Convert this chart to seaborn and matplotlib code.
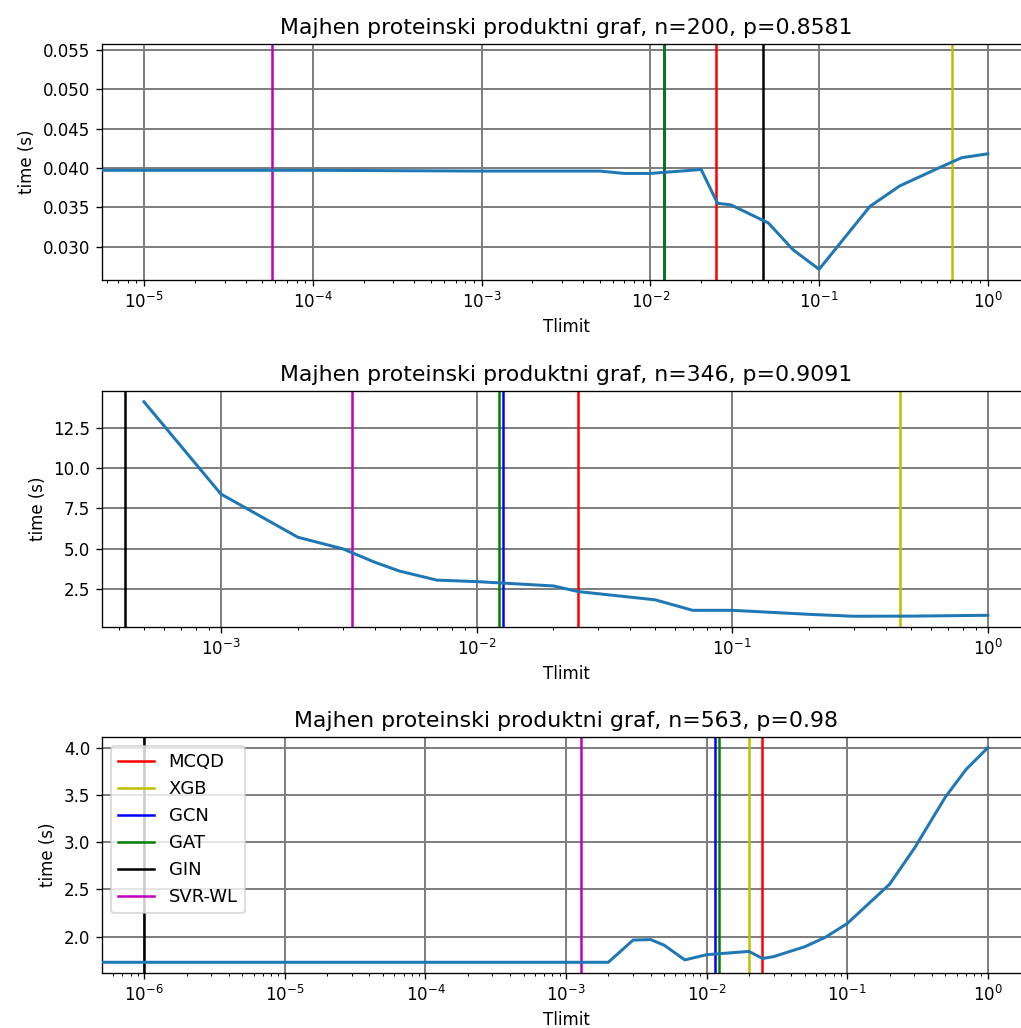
import numpy as np
import pandas as pd
import matplotlib
matplotlib.use("Agg")
import matplotlib.pyplot as plt
import matplotlib.ticker as mticker
import seaborn as sns

# ---------------- data ----------------
titles = [
    "Majhen proteinski produktni graf, n=200, p=0.8581",
    "Majhen proteinski produktni graf, n=346, p=0.9091",
    "Majhen proteinski produktni graf, n=563, p=0.98",
]

# panel 1
t1_x = [1e-6, 1e-5, 1e-4, 1e-3, 2e-3, 3e-3, 5e-3, 7e-3, 1e-2, 2e-2, 2.5e-2, 3e-2,
        5e-2, 7e-2, 0.1, 0.2, 0.3, 0.5, 0.7, 1.0]
t1_y = [0.0397, 0.0397, 0.0397, 0.0396, 0.0396, 0.0396, 0.0396, 0.0393, 0.0393, 0.0398,
        0.0355, 0.0353, 0.0330, 0.0296, 0.0271, 0.0351, 0.0377, 0.0399, 0.0413, 0.0418]

# panel 2
t2_x = [5e-4, 1e-3, 2e-3, 3e-3, 4e-3, 5e-3, 7e-3, 1e-2, 2e-2, 2.5e-2, 5e-2, 7e-2,
        0.1, 0.2, 0.3, 0.5, 1.0]
t2_y = [14.1, 8.38, 5.7, 4.98, 4.15, 3.6, 3.04, 2.95, 2.68, 2.33, 1.82, 1.17,
        1.17, 0.92, 0.80, 0.81, 0.86]

# panel 3
t3_x = [1e-7, 1e-6, 1e-5, 1e-4, 1e-3, 2e-3, 3e-3, 4e-3, 5e-3, 7e-3, 1e-2, 2e-2,
        2.5e-2, 3e-2, 5e-2, 7e-2, 0.1, 0.2, 0.3, 0.5, 0.7, 1.0]
t3_y = [1.73, 1.73, 1.73, 1.73, 1.73, 1.73, 1.965, 1.97, 1.91, 1.755, 1.81, 1.845,
        1.77, 1.79, 1.895, 1.995, 2.14, 2.555, 2.935, 3.48, 3.77, 4.0]

methods = ["MCQD", "XGB", "GCN", "GAT", "GIN", "SVR-WL"]
method_colors = ["r", "y", "b", "g", "k", "m"]
pred1 = [0.0246, 0.612, 0.0121, 0.0121, 0.0467, 5.7e-5]
pred2 = [0.025, 0.455, 0.0127, 0.0122, 4.2e-4, 3.25e-3]
pred3 = [0.0248, 0.0201, 0.01145, 0.01225, 1e-6, 1.27e-3]

xlims = [(10 ** -5.25, 10 ** 0.25), (10 ** -3.465, 10 ** 0.165), (10 ** -6.3, 10 ** 0.3)]
xmajor = [[1e-5, 1e-4, 1e-3, 1e-2, 1e-1, 1.0],
          [1e-3, 1e-2, 1e-1, 1.0],
          [1e-6, 1e-5, 1e-4, 1e-3, 1e-2, 1e-1, 1.0]]
ylims = [(0.02574, 0.05577), None, None]

# ---------------- figure ----------------
W, H = 1021, 1028
DPI = 120
fig = plt.figure(figsize=(W / DPI, H / DPI), dpi=DPI)
fig.patch.set_facecolor("white")

# axes boxes in pixels: (left, top, right, bottom)
boxes = [(102, 44, 1030, 280), (102, 391, 1030, 627), (102, 737, 1030, 973)]

series = [(t1_x, t1_y, pred1), (t2_x, t2_y, pred2), (t3_x, t3_y, pred3)]

for i, ((xs, ys, preds), box) in enumerate(zip(series, boxes)):
    l, t, r, b = box
    ax = fig.add_axes([l / W, 1 - b / H, (r - l) / W, (b - t) / H])
    ax.set_xscale("log")
    df = pd.DataFrame({"Tlimit": xs, "time": ys})
    sns.lineplot(data=df, x="Tlimit", y="time", ax=ax, color="#1f77b4",
                 linewidth=1.8, zorder=3, estimator=None, sort=True)
    for name, col, v in zip(methods, method_colors, preds):
        ax.axvline(v, color=col, linewidth=1.5, label=name, zorder=2.5)
    ax.set_xlim(*xlims[i])
    ax.set_xticks(xmajor[i])
    ax.xaxis.set_minor_locator(mticker.LogLocator(base=10, subs=np.arange(2, 10), numticks=20))
    ax.xaxis.set_minor_formatter(mticker.NullFormatter())
    ax.set_xlim(*xlims[i])
    if ylims[i] is not None:
        ax.set_ylim(*ylims[i])
    ax.grid(True, which="major", color="grey", linewidth=1.2)
    ax.set_axisbelow(True)
    ax.set_title(titles[i], fontsize=13.2)
    ax.set_xlabel("Tlimit", fontsize=10)
    ax.set_ylabel("time (s)", fontsize=10)
    ax.tick_params(labelsize=10)
    if i == 2:
        ax.legend(loc="upper left", fontsize=10.8)
    else:
        leg = ax.get_legend()
        if leg is not None:
            leg.remove()

fig.savefig("out.png", dpi=DPI)
